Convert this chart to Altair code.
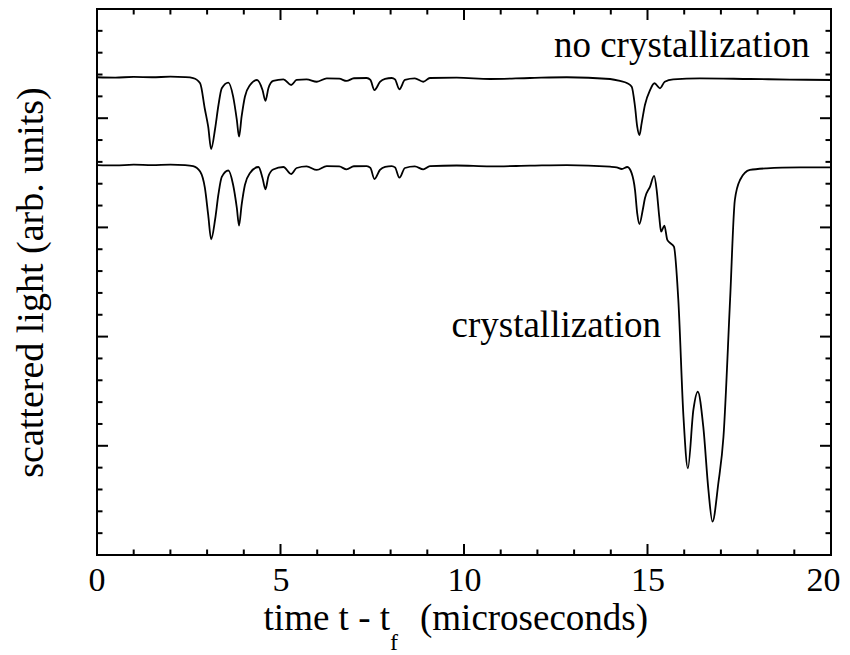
import altair as alt
import pandas as pd

# ---- data (t in microseconds, v in arbitrary units) ----
t_upper = [0.0, 0.5, 1.0, 1.5, 2.0, 2.4, 2.62, 2.81, 2.94, 3.03, 3.11, 3.22, 3.31, 3.40,
           3.58, 3.71, 3.81, 3.87, 3.94, 4.03, 4.17, 4.36, 4.51, 4.59, 4.67, 4.80, 5.08,
           5.29, 5.44, 5.71, 5.99, 6.26, 6.60, 6.80, 7.00, 7.35, 7.45, 7.56, 7.71, 7.85,
           8.03, 8.12, 8.24, 8.39, 8.66, 8.89, 9.07, 9.80, 10.71, 11.8, 12.80, 13.98,
           14.25, 14.45, 14.57, 14.66, 14.72, 14.78, 14.84, 14.93, 15.07, 15.19, 15.34,
           15.47, 15.70, 16.43, 17.79, 18.88, 20.0]
v_upper = [4.375, 4.372, 4.378, 4.375, 4.380, 4.376, 4.368, 4.320, 4.082, 3.922, 3.718,
           3.908, 4.121, 4.274, 4.325, 4.197, 3.984, 3.831, 4.014, 4.197, 4.304, 4.350,
           4.258, 4.160, 4.274, 4.341, 4.356, 4.304, 4.350, 4.356, 4.334, 4.365, 4.362,
           4.341, 4.366, 4.368, 4.350, 4.258, 4.332, 4.360, 4.368, 4.355, 4.265, 4.350,
           4.364, 4.334, 4.368, 4.371, 4.359, 4.368, 4.375, 4.359, 4.341, 4.320, 4.289,
           4.105, 3.922, 3.846, 3.953, 4.121, 4.258, 4.320, 4.274, 4.334, 4.356, 4.365,
           4.359, 4.354, 4.350]

t_lower = [0.0, 0.5, 1.0, 1.5, 2.0, 2.4, 2.62, 2.81, 2.94, 3.03, 3.11, 3.22, 3.31, 3.40,
           3.58, 3.71, 3.81, 3.87, 3.94, 4.03, 4.17, 4.40, 4.51, 4.59, 4.67, 4.80, 5.08,
           5.29, 5.44, 5.71, 5.99, 6.26, 6.60, 6.80, 7.00, 7.35, 7.45, 7.56, 7.71, 7.85,
           8.03, 8.12, 8.24, 8.39, 8.66, 8.89, 9.07, 9.80, 10.71, 11.8, 12.80, 13.98,
           14.16, 14.30, 14.45, 14.57, 14.66, 14.72, 14.78, 14.87, 14.93, 15.07, 15.18,
           15.25, 15.32, 15.37, 15.46, 15.54, 15.63, 15.72, 15.84, 15.98, 16.10, 16.25,
           16.37, 16.52, 16.66, 16.77, 16.93, 17.07, 17.25, 17.38, 17.52, 17.79, 18.25,
           19.16, 20.0]
v_lower = [3.571, 3.568, 3.574, 3.570, 3.575, 3.571, 3.562, 3.512, 3.361, 3.114, 2.891,
           3.077, 3.306, 3.462, 3.521, 3.388, 3.178, 3.017, 3.205, 3.388, 3.498, 3.553,
           3.453, 3.349, 3.466, 3.530, 3.553, 3.489, 3.544, 3.558, 3.526, 3.562, 3.558,
           3.532, 3.560, 3.562, 3.545, 3.443, 3.526, 3.555, 3.562, 3.550, 3.455, 3.544,
           3.558, 3.532, 3.562, 3.567, 3.558, 3.565, 3.571, 3.556, 3.550, 3.535, 3.553,
           3.495, 3.342, 3.129, 3.031, 3.159, 3.267, 3.373, 3.471, 3.342, 3.098, 2.961,
           3.016, 2.885, 2.854, 2.823, 2.335, 1.266, 0.794, 1.328, 1.495, 1.175, 0.595,
           0.305, 0.657, 1.083, 2.335, 3.251, 3.434, 3.526, 3.541, 3.549, 3.550]

annot_t = [12.45, 9.66]
annot_v = [4.56, 2.0]
annot_text = ["no crystallization", "crystallization"]

x_major = [0, 5, 10, 15, 20]
x_minor = [1, 2, 3, 4, 6, 7, 8, 9, 11, 12, 13, 14, 16, 17, 18, 19]
y_major = [0, 1, 2, 3, 4, 5]
y_minor = [0.2, 0.4, 0.6, 0.8, 1.2, 1.4, 1.6, 1.8, 2.2, 2.4, 2.6, 2.8,
           3.2, 3.4, 3.6, 3.8, 4.2, 4.4, 4.6, 4.8]

# ---- layout ----
W, H = 734, 546
FONT = "Times New Roman, Liberation Serif, Times, serif"
MAJ, MIN = 11, 5.5

curves = pd.concat([
    pd.DataFrame({"t": t_upper, "v": v_upper, "series": "no crystallization"}),
    pd.DataFrame({"t": t_lower, "v": v_lower, "series": "crystallization"}),
])
annots = pd.DataFrame({"t": annot_t, "v": annot_v, "label": annot_text})

xscale = alt.Scale(domain=[0, 20], nice=False, zero=False)
yscale = alt.Scale(domain=[0, 5], nice=False, zero=False)

xaxis = alt.Axis(values=x_major, ticks=False, domain=False, grid=False,
                 labelFont=FONT, labelFontSize=34, labelColor="black",
                 labelPadding=8, labelFlush=True, labelFlushOffset=9,
                 labelOverlap=False, labelBound=False, format="d", title=None)
yaxis = alt.Axis(labels=False, ticks=False, domain=False, grid=False,
                 title="scattered light (arb. units)", titleFont=FONT,
                 titleFontSize=38, titleFontWeight="normal", titleColor="black",
                 titleAngle=270, titleBaseline="alphabetic", titleAlign="center",
                 titleX=-55, titleY=H / 2)

X = alt.X("t:Q", scale=xscale, axis=xaxis)
Y = alt.Y("v:Q", scale=yscale, axis=yaxis)

lines = alt.Chart(curves).mark_line(
    color="black", strokeWidth=1.8, interpolate="monotone"
).encode(x=X, y=Y, detail="series:N")

text = alt.Chart(annots).mark_text(
    align="left", baseline="alphabetic", font=FONT, fontSize=37, color="black"
).encode(x=X, y=Y, text="label:N")

def xticks(vals, length):
    d = pd.DataFrame({"t": vals})
    bottom = alt.Chart(d).mark_rule(color="black", strokeWidth=2).encode(
        x=X, y=alt.value(H), y2=alt.value(H - length))
    top = alt.Chart(d).mark_rule(color="black", strokeWidth=2).encode(
        x=X, y=alt.value(0), y2=alt.value(length))
    return [bottom, top]

def yticks(vals, length):
    d = pd.DataFrame({"v": vals})
    left = alt.Chart(d).mark_rule(color="black", strokeWidth=2).encode(
        y=Y, x=alt.value(0), x2=alt.value(length))
    right = alt.Chart(d).mark_rule(color="black", strokeWidth=2).encode(
        y=Y, x=alt.value(W), x2=alt.value(W - length))
    return [left, right]

title_df = pd.DataFrame({"a": [0]})
def title_piece(s, x, y, size, align):
    return alt.Chart(title_df).mark_text(
        text=s, align=align, baseline="alphabetic", font=FONT, fontSize=size,
        color="black"
    ).encode(x=alt.value(x), y=alt.value(y))

title_layers = [
    title_piece("time t - t", 293, 621, 37, "right"),
    title_piece("f", 297, 641, 24, "center"),
    title_piece("(microseconds)", 323, 621, 37, "left"),
]

chart = alt.layer(
    lines, text,
    *xticks(x_major, MAJ), *xticks(x_minor, MIN),
    *yticks(y_major, MAJ), *yticks(y_minor, MIN),
    *title_layers,
).properties(
    width=W, height=H,
    autosize=alt.AutoSizeParams(type="none"),
    padding={"left": 89, "top": 1, "right": 11, "bottom": 99},
).configure(background="white").configure_view(stroke="black", strokeWidth=2)

chart.save("out.html", embed_options={"renderer": "svg", "actions": False})
